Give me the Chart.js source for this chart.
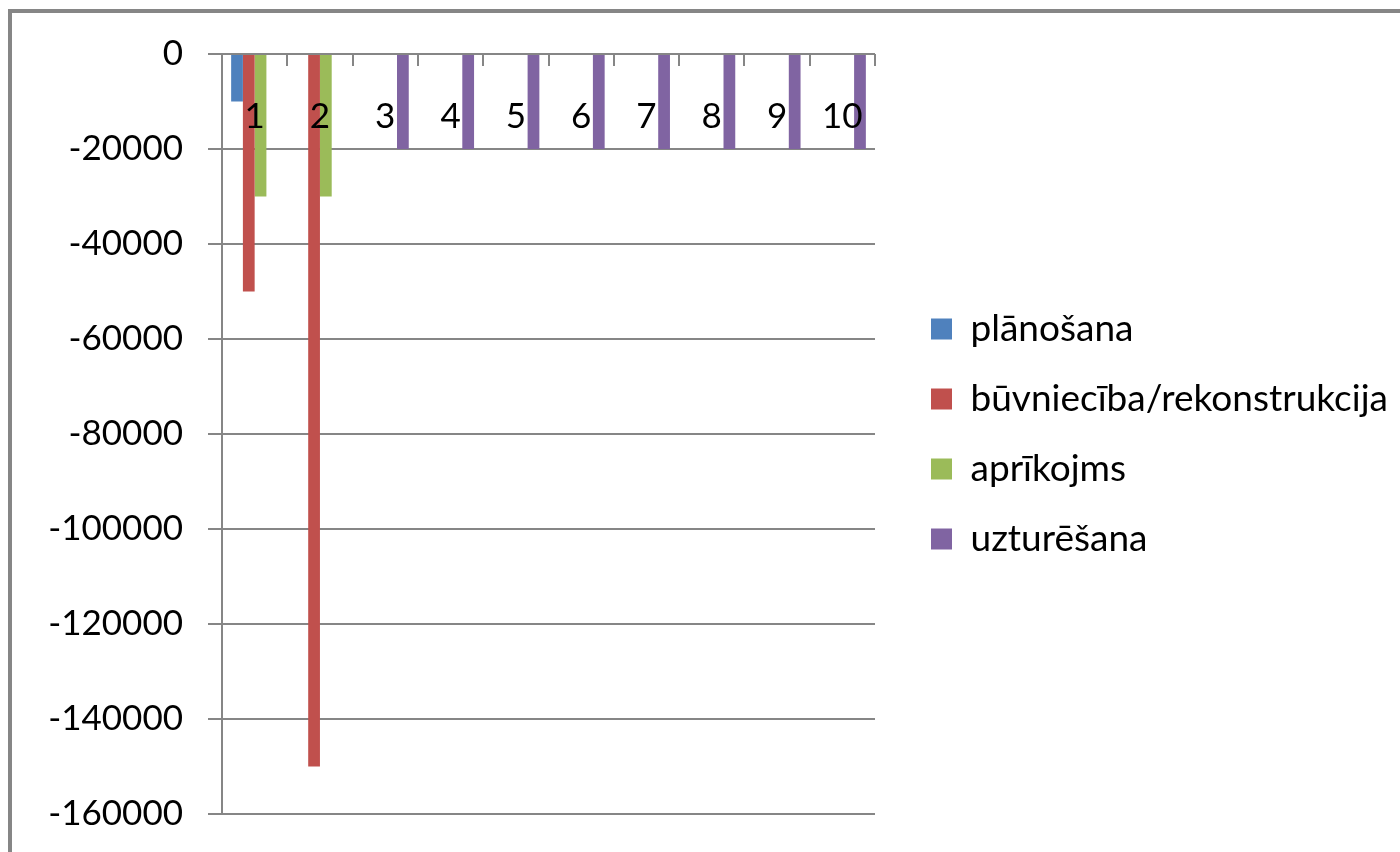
<!DOCTYPE html>
<html>
<head>
<meta charset="utf-8">
<script src="https://cdn.jsdelivr.net/npm/chart.js@4"></script>
<style>
  html, body { margin: 0; padding: 0; background: #fff; overflow: hidden; }
  #wrap { position: relative; width: 1400px; height: 852px; }
  #frame { position: absolute; left: 8px; top: 9px; right: -20px; bottom: -20px;
           border-left: 4px solid #868686; border-top: 4px solid #868686; }
  #chart { position: absolute; left: 0; top: 0; }
</style>
</head>
<body>
<div id="wrap">
  <div id="frame"></div>
  <canvas id="chart" width="1400" height="852"></canvas>
</div>
<script>
// categories and series
const categories = ['1', '2', '3', '4', '5', '6', '7', '8', '9', '10'];
const planosana = [-10000, null, null, null, null, null, null, null, null, null];
const buvnieciba = [-50000, -150000, null, null, null, null, null, null, null, null];
const aprikojms = [-30000, -30000, null, null, null, null, null, null, null, null];
const uzturesana = [null, null, -20000, -20000, -20000, -20000, -20000, -20000, -20000, -20000];
const yTicks = [0, -20000, -40000, -60000, -80000, -100000, -120000, -140000, -160000];

const font = { family: 'Lato', size: 35 };
const gray = '#868686';
const legendWidth = 502;

// Chart.js caps a side legend at a quarter of the width, widen it
const wideLegend = {
    id: 'wideLegend',
    beforeLayout(chart) {
        const lg = chart.legend;
        if (lg && !lg._wide) {
            const fit = lg.fit;
            lg.fit = function () { fit.call(this); this.width = legendWidth; };
            lg._wide = true;
        }
    }
};

new Chart(document.getElementById('chart'), {
    type: 'bar',
    data: {
        labels: categories,
        datasets: [
            { label: 'plānošana', data: planosana, backgroundColor: '#4F81BD' },
            { label: 'būvniecība/rekonstrukcija', data: buvnieciba, backgroundColor: '#C0504D' },
            { label: 'aprīkojms', data: aprikojms, backgroundColor: '#9BBB59' },
            { label: 'uzturēšana', data: uzturesana, backgroundColor: '#8064A2' }
        ]
    },
    plugins: [wideLegend],
    options: {
        responsive: false,
        animation: false,
        devicePixelRatio: 1,
        categoryPercentage: 0.72,
        barPercentage: 1,
        layout: { padding: { top: 54, bottom: 38, left: 0, right: 0 } },
        plugins: {
            tooltip: { enabled: false },
            legend: {
                position: 'right',
                labels: {
                    font: { family: 'Lato', size: 37 },
                    color: '#000',
                    boxWidth: 21,
                    boxHeight: 21,
                    padding: 33
                }
            }
        },
        scales: {
            x: {
                position: { y: 0 },
                grid: { drawOnChartArea: false, drawTicks: true, tickLength: 12, color: gray, lineWidth: 2, offset: true },
                border: { display: false },
                ticks: { font: font, color: '#000', padding: 30, maxRotation: 0, autoSkip: false, z: 1 }
            },
            y: {
                min: -160000,
                max: 0,
                afterBuildTicks: s => { s.ticks = yTicks.map(v => ({ value: v })); },
                afterFit: s => { s.width = 222; s.paddingTop = 0; s.paddingBottom = 0; },
                grid: { color: gray, lineWidth: 2, tickLength: 14 },
                border: { display: true, color: gray, width: 2 },
                ticks: { font: font, color: '#000', padding: 25, callback: v => String(v) }
            },
            // spacer between plot and legend
            yR: {
                position: 'right',
                grid: { display: false },
                border: { display: false },
                ticks: { display: false },
                afterFit: s => { s.width = 23; }
            }
        }
    }
});
</script>
</body>
</html>
